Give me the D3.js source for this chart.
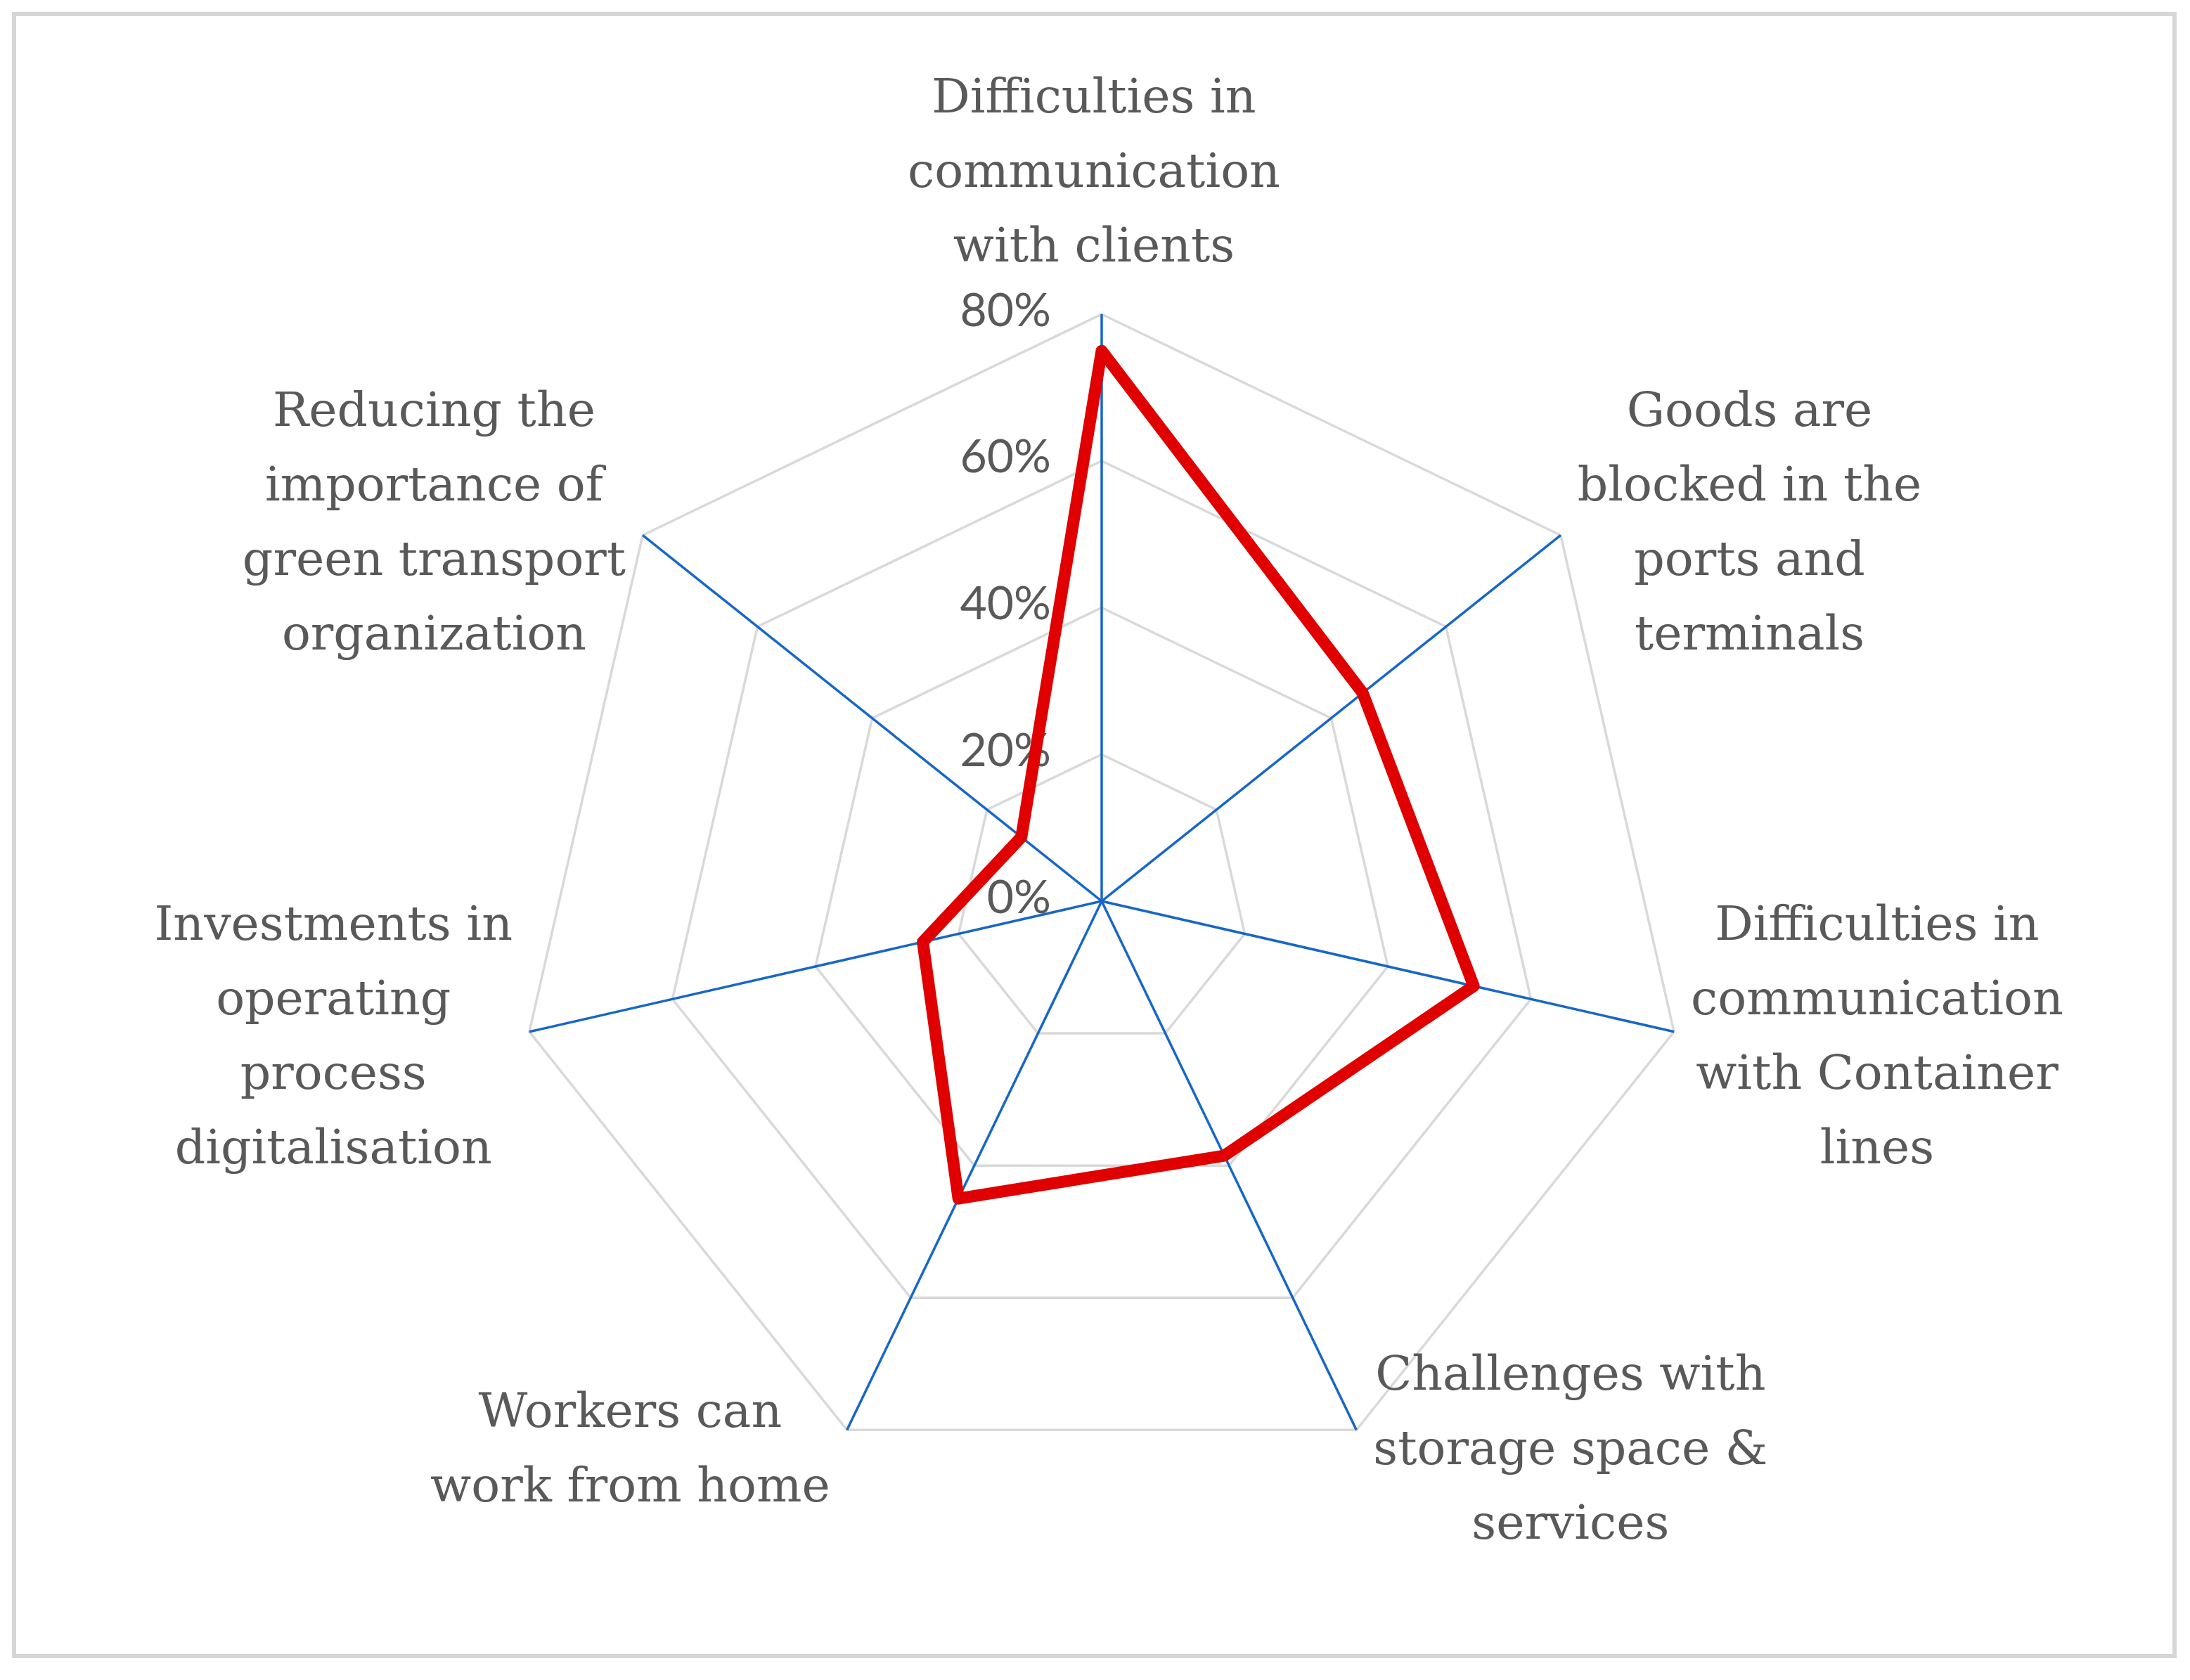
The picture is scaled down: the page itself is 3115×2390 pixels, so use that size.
<!DOCTYPE html>
<head>
	<meta charset="utf-8">
	<title>Radar chart</title>
	<style>
	body{margin:0;background:#fff;}
	svg{display:block;}
	.tick text{font-family:Lato, sans-serif;font-size:66px;fill:#595959;}
	.cat text{font-family:"DejaVu Serif", serif;font-size:68px;fill:#595959;}
	</style>
	<script src="https://d3js.org/d3.v7.min.js"></script>
</head>
<body>
	<svg id="chart"></svg>
	<script>
	// categories (clockwise from top)
	var categories = [
		["Difficulties in", "communication", "with clients"],
		["Goods are", "blocked in the", "ports and", "terminals"],
		["Difficulties in", "communication", "with Container", "lines"],
		["Challenges with", "storage space &", "services"],
		["Workers can", "work from home"],
		["Investments in", "operating", "process", "digitalisation"],
		["Reducing the", "importance of", "green transport", "organization"]
	];
	var values = [0.75, 0.455, 0.52, 0.385, 0.45, 0.25, 0.14];
	var ticks = [0, 0.2, 0.4, 0.6, 0.8];

	var W = 3115, H = 2390;
	var cx = 1567, cy = 1282, R = 835;
	var lineH = 106;

	var svg = d3.select("#chart").attr("width", W).attr("height", H);

	// frame
	svg.append("rect")
		.attr("x", 20).attr("y", 20)
		.attr("width", W - 42).attr("height", H - 54)
		.attr("fill", "none").attr("stroke", "#d6d6d6").attr("stroke-width", 6);

	var r = d3.scaleLinear().domain([0, 0.8]).range([0, R]);
	var n = categories.length;
	var ang = d3.scaleLinear().domain([0, n]).range([0, 2 * Math.PI]);

	function pt(i, v){
		var a = ang(i);
		return [cx + r(v) * Math.sin(a), cy - r(v) * Math.cos(a)];
	}

	var g = svg.append("g");

	// grid rings
	g.selectAll(".ring").data(ticks.filter(function(t){ return t > 0; }))
		.enter().append("polygon")
		.attr("points", function(t){
			return d3.range(n).map(function(i){ return pt(i, t).join(","); }).join(" ");
		})
		.attr("fill", "none").attr("stroke", "#d9d9d9").attr("stroke-width", 3.5);

	// spokes
	g.selectAll(".spoke").data(d3.range(n))
		.enter().append("line")
		.attr("x1", cx).attr("y1", cy)
		.attr("x2", function(i){ return pt(i, 0.8)[0]; })
		.attr("y2", function(i){ return pt(i, 0.8)[1]; })
		.attr("stroke", "#1767c8").attr("stroke-width", 3.5);

	// tick labels
	var tk = svg.append("g").attr("class", "tick");
	tk.selectAll("text").data(ticks).enter().append("text")
		.attr("x", cx - 72)
		.attr("y", function(t){ return cy - r(t); })
		.attr("text-anchor", "end")
		.attr("dominant-baseline", "middle")
		.text(d3.format(".0%"));

	// data line
	svg.append("path")
		.datum(values)
		.attr("d", d3.line()
			.x(function(d, i){ return pt(i, d)[0]; })
			.y(function(d, i){ return pt(i, d)[1]; })
			.curve(d3.curveLinearClosed))
		.attr("fill", "none").attr("stroke", "#e00000")
		.attr("stroke-width", 17).attr("stroke-linejoin", "round");

	// category labels
	var cat = svg.append("g").attr("class", "cat");
	categories.forEach(function(lines, i){
		var end = pt(i, 0.8);
		var a = ang(i), s = Math.sin(a), c = Math.cos(a);
		var t = cat.append("text").attr("text-anchor", "middle");
		var sp = t.selectAll("tspan").data(lines).enter().append("tspan").text(function(d){ return d; });
		var bw = 0;
		sp.each(function(){ bw = Math.max(bw, this.getComputedTextLength()); });
		var x, y0;
		if (Math.abs(s) < 0.1) {
			x = end[0] - 11;
			y0 = end[1] - 75 - (lines.length - 1) * lineH;
		} else {
			var gap = 24;
			x = s > 0 ? end[0] + gap + bw / 2 : end[0] - gap - bw / 2;
			var mid = end[1] - c * 30;
			y0 = mid - (lines.length - 1) * lineH / 2 + 22;
		}
		sp.attr("x", x).attr("y", function(d, k){ return y0 + k * lineH; });
	});
	</script>
</body>
</html>
